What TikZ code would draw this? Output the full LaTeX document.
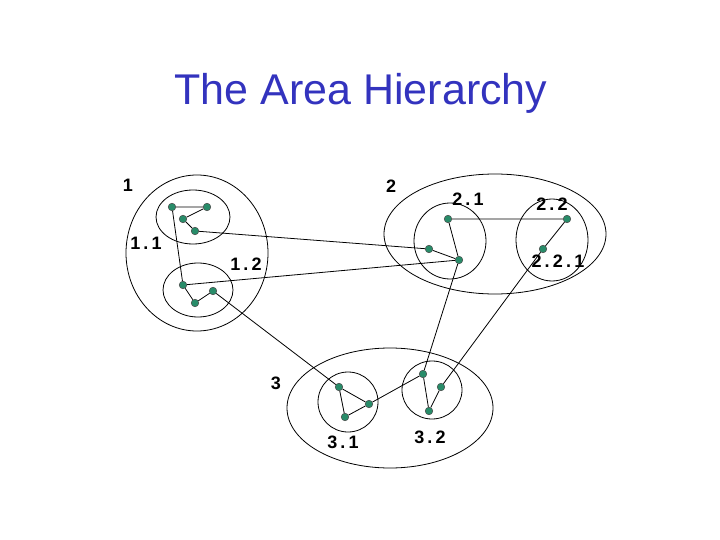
\documentclass[tikz,border=0pt]{standalone}
\usepackage{fontspec}
\setmainfont{Liberation Sans}
\newfontfamily\lblfont[LetterSpace=18]{Liberation Sans}
\definecolor{titleblue}{RGB}{51,51,190}
\definecolor{dotgreen}{RGB}{40,140,105}
\newcommand{\dotr}{3.8pt}

\begin{document}
\begin{tikzpicture}[x=1pt,y=-1pt,
    router/.style={circle,draw=black!70,fill=dotgreen,line width=0.5pt,inner sep=0pt,minimum size=2*\dotr},
    area/.style={draw,line width=0.8pt},
    lbl/.style={font=\lblfont\bfseries\fontsize{18}{18}\selectfont,inner sep=0pt},
    link/.style={line width=0.8pt}]

        \useasboundingbox (0,0) rectangle (720,540);

        % Title
        \node[text=titleblue,font=\fontsize{43}{43}\selectfont] (title) at (361,93) {The Area Hierarchy};

        % Area outlines
        \draw[area] (197,253) ellipse [x radius=71, y radius=78];
        \draw[area] (193,217) ellipse [x radius=37, y radius=27];
        \draw[area] (198,290) ellipse [x radius=35, y radius=27];

        \draw[area] (495,234) ellipse [x radius=111, y radius=60];
        \draw[area] (450,241) ellipse [x radius=36, y radius=38];
        \draw[area] (552,240) ellipse [x radius=36, y radius=41];

        \draw[area] (390,408) ellipse [x radius=103, y radius=60];
        \draw[area] (348,402) ellipse [x radius=30, y radius=30];
        \draw[area] (432,390) ellipse [x radius=30, y radius=29];

        % Routers
        \node[router] (a1) at (172,207) {};
        \node[router] (a2) at (207,207) {};
        \node[router] (a3) at (183,219) {};
        \node[router] (a4) at (195,231) {};

        \node[router] (b1) at (183,285) {};
        \node[router] (b2) at (213,291) {};
        \node[router] (b3) at (195,303) {};

        \node[router] (c1) at (448,219) {};
        \node[router] (c2) at (429,249) {};
        \node[router] (c3) at (459,260) {};

        \node[router] (d1) at (567,219) {};
        \node[router] (d2) at (543,249) {};

        \node[router] (e1) at (339,387) {};
        \node[router] (e2) at (369,404) {};
        \node[router] (e3) at (345,417) {};

        \node[router] (f1) at (423,374) {};
        \node[router] (f2) at (441,387) {};
        \node[router] (f3) at (429,411) {};

        % Links
        \draw[link] (a1) -- (a2) -- (a3) -- (a4);
        \draw[link] (a1) -- (b1);
        \draw[link] (a4) -- (c2);
        \draw[link] (b1) -- (c3);
        \draw[link] (b1) -- (b3) -- (b2);
        \draw[link] (b2) -- (e1);
        \draw[link] (c1) -- (c3) -- (c2);
        \draw[link] (c1) -- (d1) -- (d2);
        \draw[link] (c3) -- (f1);
        \draw[link] (d2) -- (f2);
        \draw[link] (e1) -- (e3) -- (e2) -- (e1);
        \draw[link] (e2) -- (f1);
        \draw[link] (f1) -- (f3) -- (f2);

        % add labels
        \node[lbl] (l1) at (128,185) {1};
        \node[lbl] (l11) at (146,243) {1.1};
        \node[lbl] (l12) at (246,264) {1.2};
        \node[lbl] (l2) at (391,186) {2};
        \node[lbl] (l21) at (468,199) {2.1};
        \node[lbl] (l22) at (552,204) {2.2};
        \node[lbl] (l221) at (558,261) {2.2.1};
        \node[lbl] (l3) at (276,383) {3};
        \node[lbl] (l31) at (343,442) {3.1};
        \node[lbl] (l32) at (430,437) {3.2};
\end{tikzpicture}
\end{document}
